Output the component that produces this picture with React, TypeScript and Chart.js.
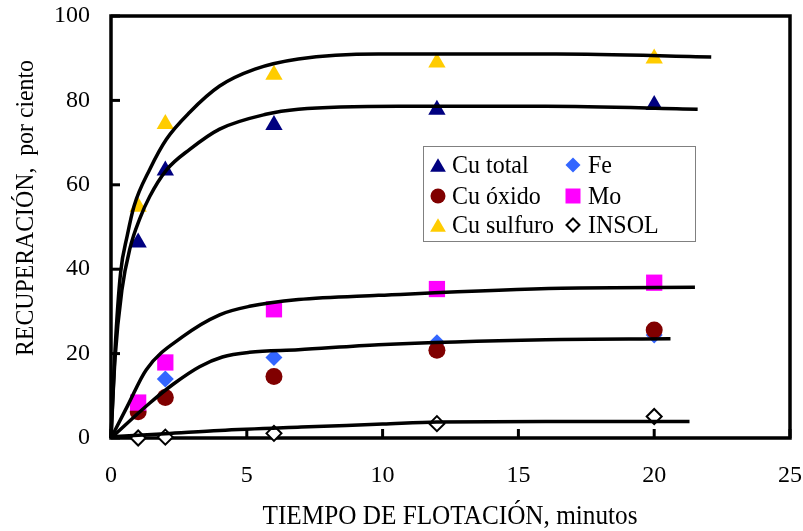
import React, { useEffect, useRef } from "react";
import { Chart, registerables } from "chart.js";
Chart.register(...registerables);

// Measured data (time in minutes, recovery %)
const times = [1, 2, 6, 12, 20];
const cuTotal = [46.3, 63.4, 74.2, 77.8, 78.9];
const cuOxido = [6.2, 9.6, 14.6, 20.8, 25.6];
const cuSulfuro = [54.8, 74.4, 86.1, 89.0, 89.9];
const fe = [7.6, 14.0, 19.1, 22.6, 24.4];
const mo = [8.4, 17.9, 30.5, 35.3, 36.8];
const insol = [0.0, 0.2, 1.1, 3.4, 5.1];

// Fitted curves
const fitSulfuroT = [0, 0.15, 0.35, 0.6, 0.85, 1.43, 2.04, 2.9, 4.0, 5.3, 6.9, 9.85, 16.4, 22.1];
const fitSulfuroV = [0, 21, 39, 48, 55, 63.7, 70.8, 77.2, 83.4, 87.4, 89.8, 91.0, 91.0, 90.3];
const fitTotalT = [0, 0.15, 0.4, 0.7, 1.06, 1.43, 2.04, 2.9, 4.0, 5.7, 6.9, 10.6, 16, 21.6];
const fitTotalV = [0, 19, 35, 45, 52, 57.3, 63.5, 68.4, 73.2, 76.7, 77.9, 78.6, 78.6, 77.9];
const fitMoT = [0, 0.6, 1.3, 2.64, 4.0, 5.1, 6.9, 9.85, 16.6, 21.5];
const fitMoV = [0, 7.5, 16.2, 24.0, 29.2, 31.2, 32.8, 33.8, 35.5, 35.7];
const fitFeT = [0, 1.43, 2.3, 3.26, 4.1, 5.1, 6.9, 9.85, 16, 20.6];
const fitFeV = [0, 8.3, 12.8, 16.9, 19.2, 20.3, 20.9, 22.1, 23.3, 23.5];
const fitInsolT = [0, 2, 4, 7, 10, 12, 16, 21.3];
const fitInsolV = [0.3, 1.0, 1.8, 2.6, 3.3, 3.8, 3.9, 3.9];

const xTicks = [0, 5, 10, 15, 20, 25];
const yTicks = [0, 20, 40, 60, 80, 100];

const xTitle = "TIEMPO DE FLOTACIÓN, minutos";
const yTitle = "RECUPERACIÓN,  por ciento";

const FONT = "'Liberation Serif', 'Times New Roman', serif";

const pts = (xs: number[], ys: number[]) => xs.map((x, i) => ({ x, y: ys[i] }));

function drawMarker(ctx: CanvasRenderingContext2D, kind: string, x: number, y: number, r: number, fill: string) {
  ctx.save();
  ctx.beginPath();
  if (kind === "triangle") {
    const h = r * 1.8;
    const w = r * 2.1;
    ctx.moveTo(x, y - h / 2);
    ctx.lineTo(x + w / 2, y + h / 2);
    ctx.lineTo(x - w / 2, y + h / 2);
    ctx.closePath();
    ctx.fillStyle = fill;
    ctx.fill();
  } else if (kind === "circle") {
    ctx.arc(x, y, r, 0, Math.PI * 2);
    ctx.fillStyle = fill;
    ctx.fill();
  } else if (kind === "square") {
    ctx.rect(x - r, y - r, 2 * r, 2 * r);
    ctx.fillStyle = fill;
    ctx.fill();
  } else if (kind === "diamond") {
    ctx.moveTo(x, y - r);
    ctx.lineTo(x + r, y);
    ctx.lineTo(x, y + r);
    ctx.lineTo(x - r, y);
    ctx.closePath();
    ctx.fillStyle = fill;
    ctx.fill();
  } else if (kind === "odiamond") {
    ctx.moveTo(x, y - r);
    ctx.lineTo(x + r, y);
    ctx.lineTo(x, y + r);
    ctx.lineTo(x - r, y);
    ctx.closePath();
    ctx.fillStyle = "#ffffff";
    ctx.fill();
    ctx.lineWidth = 2;
    ctx.strokeStyle = "#000000";
    ctx.stroke();
  }
  ctx.restore();
}

const legendItems = [
  { label: "Cu total", kind: "triangle", color: "#000080", col: 0, row: 0 },
  { label: "Cu óxido", kind: "circle", color: "#800000", col: 0, row: 1 },
  { label: "Cu sulfuro", kind: "triangle", color: "#FFCC00", col: 0, row: 2 },
  { label: "Fe", kind: "diamond", color: "#3366FF", col: 1, row: 0 },
  { label: "Mo", kind: "square", color: "#FF00FF", col: 1, row: 1 },
  { label: "INSOL", kind: "odiamond", color: "#ffffff", col: 1, row: 2 },
];

function fitText(ctx: CanvasRenderingContext2D, text: string, width: number) {
  const w = ctx.measureText(text).width;
  const sx = width / w;
  ctx.save();
  ctx.scale(sx, 1);
  ctx.fillText(text, 0, 0);
  ctx.restore();
}

const framePlugin = {
  id: "frameAndExtras",
  beforeDatasetsDraw(chart: any) {
    const { ctx, chartArea, scales } = chart;
    const { left, right, top, bottom } = chartArea;
    ctx.save();
    ctx.strokeStyle = "#000";
    ctx.lineWidth = 3.5;
    ctx.strokeRect(left, top, right - left, bottom - top);
    ctx.lineWidth = 3;
    yTicks.forEach((v) => {
      const y = scales.y.getPixelForValue(v);
      ctx.beginPath();
      ctx.moveTo(left, y);
      ctx.lineTo(left + 9, y);
      ctx.stroke();
    });
    xTicks.forEach((v) => {
      const x = scales.x.getPixelForValue(v);
      ctx.beginPath();
      ctx.moveTo(x, bottom);
      ctx.lineTo(x, bottom - 9);
      ctx.stroke();
    });
    ctx.restore();
  },
  afterDraw(chart: any) {
    const { ctx } = chart;
    ctx.save();
    ctx.fillStyle = "#000";
    ctx.textAlign = "center";
    ctx.textBaseline = "middle";
    // x title
    ctx.font = `27px ${FONT}`;
    ctx.save();
    ctx.translate(450, 517);
    fitText(ctx, xTitle, 375);
    ctx.restore();
    // y title
    ctx.font = `25px ${FONT}`;
    ctx.save();
    ctx.translate(26, 208);
    ctx.rotate(-Math.PI / 2);
    fitText(ctx, yTitle, 296);
    ctx.restore();

    // legend box
    ctx.fillStyle = "#ffffff";
    ctx.fillRect(423, 146, 272, 95);
    ctx.strokeStyle = "#808080";
    ctx.lineWidth = 1;
    ctx.strokeRect(423.5, 146.5, 272, 95);
    const colMarkerX = [438, 573];
    const colTextX = [452, 588];
    const rowY = [165, 196, 225];
    legendItems.forEach((it) => {
      drawMarker(ctx, it.kind, colMarkerX[it.col], rowY[it.row], it.kind === "odiamond" ? 6.5 : 7.5, it.color);
      ctx.fillStyle = "#000";
      ctx.font = `25px ${FONT}`;
      ctx.textAlign = "left";
      ctx.textBaseline = "middle";
      ctx.save();
      ctx.translate(colTextX[it.col], rowY[it.row] + 1);
      ctx.scale(0.96, 1);
      ctx.fillText(it.label, 0, 0);
      ctx.restore();
    });
    ctx.restore();
  },
};

export default function App() {
  const ref = useRef<HTMLCanvasElement | null>(null);
  useEffect(() => {
    if (!ref.current) return;
    const lineDs = (xs: number[], ys: number[]) => ({
      type: "line" as const,
      data: pts(xs, ys),
      showLine: true,
      borderColor: "#000",
      borderWidth: 3.5,
      pointRadius: 0,
      cubicInterpolationMode: "monotone" as const,
      fill: false,
      order: 0,
      clip: false as any,
    });
    const chart = new Chart(ref.current, {
      type: "scatter",
      data: {
        datasets: [
          lineDs(fitSulfuroT, fitSulfuroV),
          lineDs(fitTotalT, fitTotalV),
          lineDs(fitMoT, fitMoV),
          lineDs(fitFeT, fitFeV),
          lineDs(fitInsolT, fitInsolV),
          { label: "Cu total", data: pts(times, cuTotal), pointStyle: "triangle", pointRadius: 10, backgroundColor: "#000080", borderColor: "#000080", borderWidth: 0, order: 6, clip: false as any },
          { label: "Cu sulfuro", data: pts(times, cuSulfuro), pointStyle: "triangle", pointRadius: 10, backgroundColor: "#FFCC00", borderColor: "#FFCC00", borderWidth: 0, order: 5, clip: false as any },
          { label: "Fe", data: pts(times, fe), pointStyle: "rectRot", pointRadius: 8.5, backgroundColor: "#3366FF", borderColor: "#3366FF", borderWidth: 0, order: 4, clip: false as any },
          { label: "Cu óxido", data: pts(times, cuOxido), pointStyle: "circle", pointRadius: 8.5, backgroundColor: "#800000", borderColor: "#800000", borderWidth: 0, order: 3, clip: false as any },
          { label: "Mo", data: pts(times, mo), pointStyle: "rect", pointRadius: 11.5, backgroundColor: "#FF00FF", borderColor: "#FF00FF", borderWidth: 0, order: 2, clip: false as any },
          { label: "INSOL", data: pts(times, insol), pointStyle: "rectRot", pointRadius: 7.5, backgroundColor: "#ffffff", borderColor: "#000", borderWidth: 2, order: 1, clip: false as any },
        ] as any,
      },
      options: {
        responsive: false,
        animation: false,
        layout: { padding: { top: 16, right: 13, left: 0, bottom: 0 } },
        plugins: { legend: { display: false }, tooltip: { enabled: false } },
        scales: {
          x: {
            type: "linear",
            min: 0,
            max: 25,
            afterFit: (s: any) => {
              s.height = 93;
              s.paddingLeft = 0;
              s.paddingRight = 0;
            },
            afterBuildTicks: (s: any) => {
              s.ticks = xTicks.map((v) => ({ value: v }));
            },
            ticks: { color: "#000", font: { family: FONT, size: 24 }, padding: 23, maxRotation: 0 },
            grid: { display: false, drawTicks: false },
            border: { display: false },
          },
          y: {
            type: "linear",
            min: 0,
            max: 100,
            afterFit: (s: any) => {
              s.width = 111;
              s.paddingTop = 0;
              s.paddingBottom = 0;
            },
            afterBuildTicks: (s: any) => {
              s.ticks = yTicks.map((v) => ({ value: v }));
            },
            ticks: { color: "#000", font: { family: FONT, size: 24 }, padding: 21 },
            grid: { display: false, drawTicks: false },
            border: { display: false },
          },
        },
      },
      plugins: [framePlugin],
    });
    return () => chart.destroy();
  }, []);
  return (
    <div style={{ position: "absolute", left: 0, top: 0, width: 803, height: 531, background: "#fff" }}>
      <canvas ref={ref} width={803} height={531} style={{ display: "block" }} />
    </div>
  );
}
